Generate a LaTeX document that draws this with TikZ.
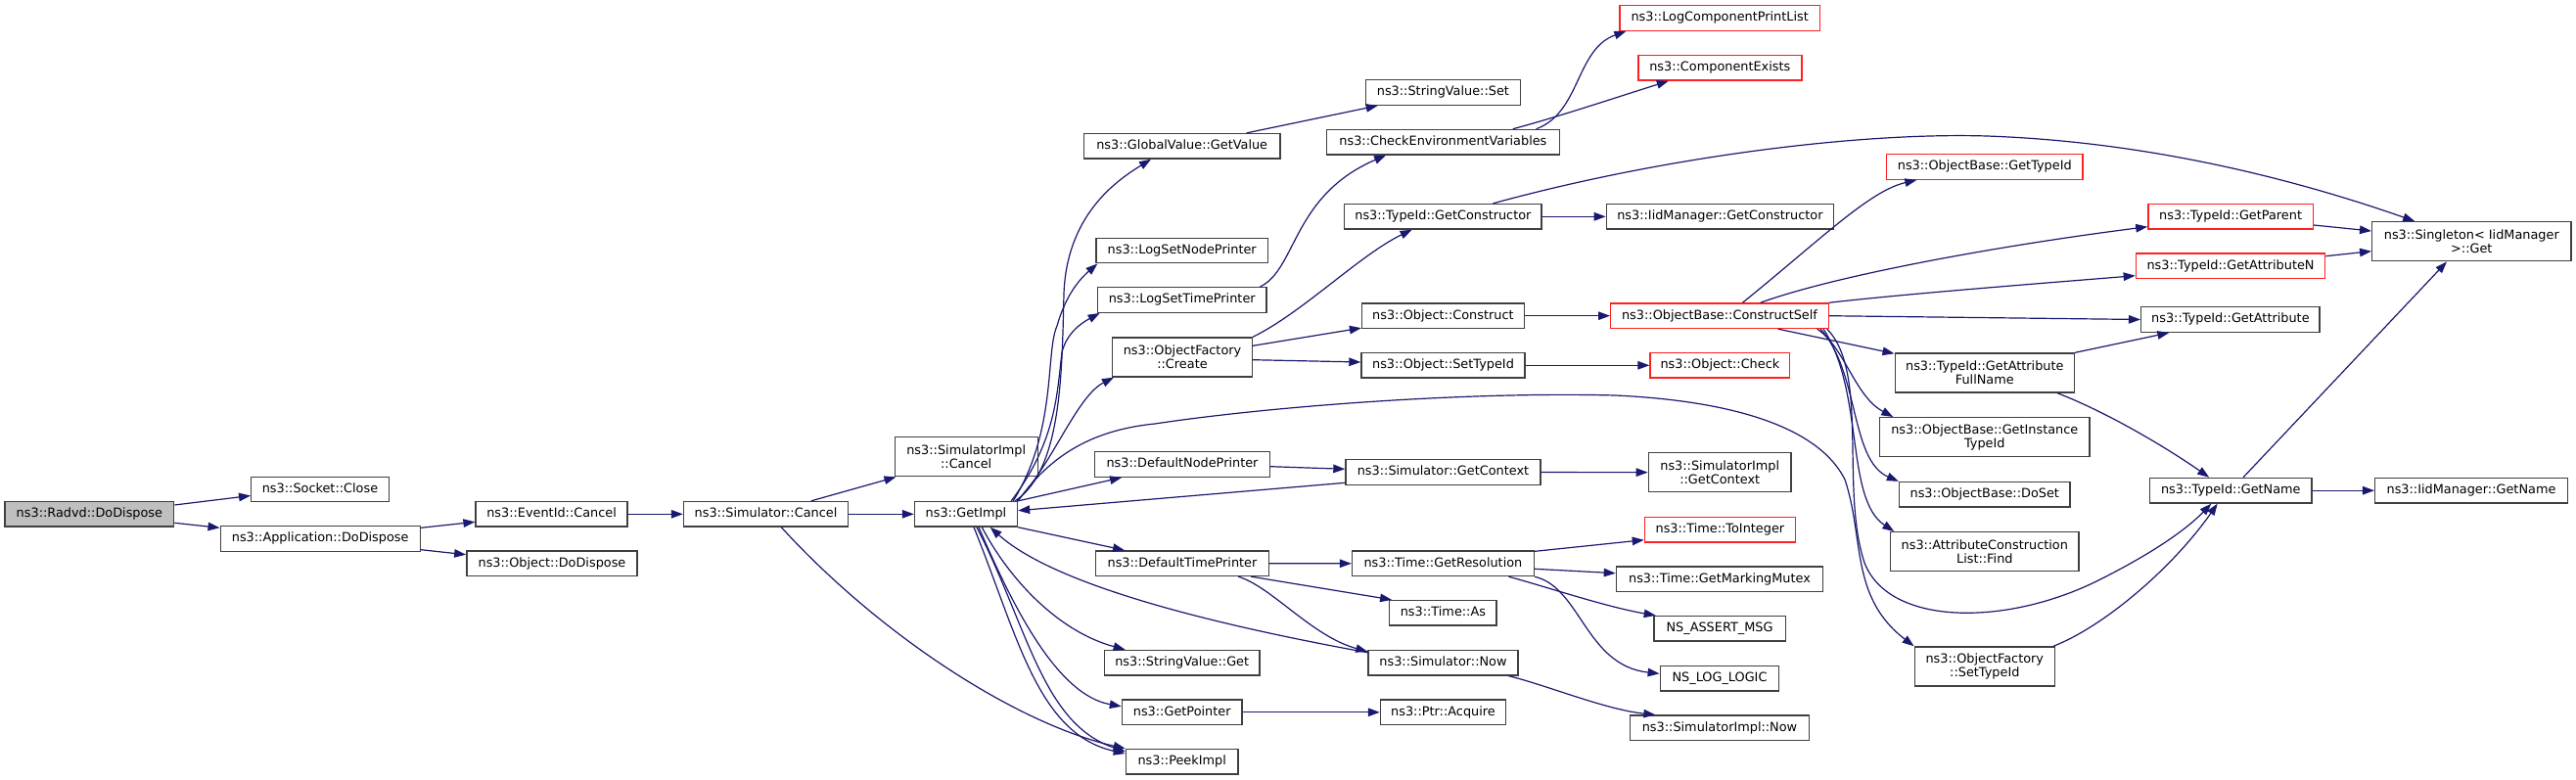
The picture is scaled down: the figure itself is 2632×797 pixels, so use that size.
\documentclass[tikz,border=0pt]{standalone}
\usepackage{fontspec}
\setmainfont{DejaVu Sans}
\usetikzlibrary{arrows.meta,calc}
\definecolor{edgeblue}{HTML}{191970}
\definecolor{boxgray}{HTML}{404040}
\definecolor{rootgray}{HTML}{BFBFBF}
\definecolor{boxred}{HTML}{FF2020}
\tikzset{
  fn/.style={draw=boxgray, line width=1.4pt, fill=white, inner sep=0pt,
    minimum height=25.5pt, font=\fontsize{12.85}{14.3}\selectfont,
    text height=9.6pt, text depth=2.8pt},
  fn2/.style={draw=boxgray, line width=1.4pt, fill=white, inner sep=0pt,
    minimum height=40pt, font=\fontsize{12.85}{14.3}\selectfont, align=center},
  redb/.style={draw=boxred},
  e/.style={draw=edgeblue, line width=1.2pt, -{Triangle[length=12pt,width=8.5pt]}, fill=none}
}
\begin{document}
\begin{tikzpicture}[x=1pt,y=-1pt]
\path[use as bounding box] (0,0) rectangle (2632,797);
% column 0-4
\node[fn, minimum width=172.5pt, fill=rootgray] (root) at (91.4,525.3) {ns3::Radvd::DoDispose};
\node[fn, minimum width=140.5pt] (close) at (327,500) {ns3::Socket::Close};
\node[fn, minimum width=204pt] (appd) at (327.2,550.5) {ns3::Application::DoDispose};
\node[fn, minimum width=155pt] (evc) at (563.6,525.3) {ns3::EventId::Cancel};
\node[fn, minimum width=174.3pt] (objd) at (564,575.8) {ns3::Object::DoDispose};
\node[fn, minimum width=168pt] (simc) at (782.5,525.3) {ns3::Simulator::Cancel};
\node[fn2, minimum width=146pt] (simic) at (987.2,466.7) {ns3::SimulatorImpl\\::Cancel};
\node[fn, minimum width=105pt] (gimpl) at (987,525.3) {ns3::GetImpl};
% column 5
\node[fn, minimum width=200.4pt] (gvget) at (1207.7,149.3) {ns3::GlobalValue::GetValue};
\node[fn, minimum width=175.3pt] (lsnp) at (1207.7,256) {ns3::LogSetNodePrinter};
\node[fn, minimum width=172.6pt] (lstp) at (1207.7,306.5) {ns3::LogSetTimePrinter};
\node[fn2, minimum width=142.7pt] (ofc) at (1208,365) {ns3::ObjectFactory\\::Create};
\node[fn, minimum width=179pt] (dnp) at (1208,474.5) {ns3::DefaultNodePrinter};
\node[fn, minimum width=176.5pt] (dtp) at (1208,575.7) {ns3::DefaultTimePrinter};
\node[fn, minimum width=158.8pt] (svget) at (1207.7,677.2) {ns3::StringValue::Get};
\node[fn, minimum width=122.4pt] (gptr) at (1207.7,727.8) {ns3::GetPointer};
\node[fn, minimum width=114.6pt] (peek) at (1207.7,778.3) {ns3::PeekImpl};
% column 6
\node[fn, minimum width=158pt] (svset) at (1474.4,94.5) {ns3::StringValue::Set};
\node[fn, minimum width=237.7pt] (cev) at (1474.4,145.2) {ns3::CheckEnvironmentVariables};
\node[fn, minimum width=201.3pt] (tgc) at (1474.4,221.3) {ns3::TypeId::GetConstructor};
\node[fn, minimum width=165.7pt] (ocons) at (1474.4,322.7) {ns3::Object::Construct};
\node[fn, minimum width=167pt] (ostid) at (1474.5,373.3) {ns3::Object::SetTypeId};
\node[fn, minimum width=199pt] (sgc) at (1474.5,482.5) {ns3::Simulator::GetContext};
\node[fn, minimum width=185.7pt] (tgr) at (1474.4,575.8) {ns3::Time::GetResolution};
\node[fn, minimum width=109.3pt] (tas) at (1474.4,626.3) {ns3::Time::As};
\node[fn, minimum width=153.1pt] (snow) at (1474.5,677.2) {ns3::Simulator::Now};
\node[fn, minimum width=128pt] (pacq) at (1474.5,727.8) {ns3::Ptr::Acquire};
% column 7
\node[fn, redb, minimum width=204.7pt] (lcpl) at (1757.2,18.5) {ns3::LogComponentPrintList};
\node[fn, redb, minimum width=167pt] (cex) at (1757.3,69.3) {ns3::ComponentExists};
\node[fn, minimum width=232pt] (igc) at (1757.4,221.3) {ns3::IidManager::GetConstructor};
\node[fn, redb, minimum width=222.5pt] (cself) at (1757,322.7) {ns3::ObjectBase::ConstructSelf};
\node[fn, redb, minimum width=142.7pt] (ocheck) at (1757.4,373.3) {ns3::Object::Check};
\node[fn2, minimum width=145.7pt] (sigc) at (1757.2,482.7) {ns3::SimulatorImpl\\::GetContext};
\node[fn, redb, minimum width=154pt] (toint) at (1757.4,541.2) {ns3::Time::ToInteger};
\node[fn, minimum width=211.2pt] (tgmm) at (1757,591.8) {ns3::Time::GetMarkingMutex};
\node[fn, minimum width=134.4pt] (nsam) at (1757,642.3) {NS\_ASSERT\_MSG};
\node[fn, minimum width=121.4pt] (nsll) at (1757,693.2) {NS\_LOG\_LOGIC};
\node[fn, minimum width=183pt] (sinow) at (1757,743.8) {ns3::SimulatorImpl::Now};
% column 8
\node[fn, redb, minimum width=200.4pt] (obgt) at (2027.8,170.5) {ns3::ObjectBase::GetTypeId};
\node[fn2, minimum width=183.2pt] (tgafn) at (2027.8,381) {ns3::TypeId::GetAttribute\\FullName};
\node[fn2, minimum width=214.2pt] (obgit) at (2027.8,446.7) {ns3::ObjectBase::GetInstance\\TypeId};
\node[fn, minimum width=174.6pt] (obds) at (2027.8,505.3) {ns3::ObjectBase::DoSet};
\node[fn2, minimum width=192.6pt] (acl) at (2027.8,563.7) {ns3::AttributeConstruction\\List::Find};
\node[fn2, minimum width=143pt] (ofst) at (2027.8,681) {ns3::ObjectFactory\\::SetTypeId};
% column 9
\node[fn, redb, minimum width=168.4pt] (tgp) at (2279.1,221.3) {ns3::TypeId::GetParent};
\node[fn, redb, minimum width=193.3pt] (tgan) at (2279,271.8) {ns3::TypeId::GetAttributeN};
\node[fn, minimum width=182.5pt] (tga) at (2278.9,326.5) {ns3::TypeId::GetAttribute};
\node[fn, minimum width=165.4pt] (tgn) at (2279.3,501.2) {ns3::TypeId::GetName};
% column 10
\node[fn2, minimum width=203.2pt] (sing) at (2525.3,246.7) {ns3::Singleton< IidManager\\ >::Get};
\node[fn, minimum width=196.7pt] (ign) at (2525,501.2) {ns3::IidManager::GetName};

% edges
\draw[e] ($(root.east)+(0,-9.3)$) -- ($(close.west)+(0,6.5)$);
\draw[e] ($(root.east)+(0,9)$) -- ($(appd.west)+(0,-11.2)$);
\draw[e] ($(appd.east)+(0,-11.2)$) -- ($(evc.west)+(0,8)$);
\draw[e] ($(appd.east)+(0,11.2)$) -- ($(objd.west)+(0,-9.1)$);
\draw[e] (evc) -- (simc);
\draw[e] ($(simc.north)+(46.2,0)$) -- ($(simic.south west)+(2,0)$);
\draw[e] (simc) -- (gimpl);
\draw[e] ($(simc.south)+(15.8,0)$) .. controls (900,650) and (1040,740) .. (peek.north west);

\draw[e] ($(gimpl.north east)+(-3,0)$) .. controls (1085,480) and (1085,380) .. (1087,300) .. controls (1090,220) and (1140,185) .. ($(gvget.south)+(-31.7,0)$);
\draw[e] ($(gimpl.north east)+(-5,0)$) .. controls (1080,440) and (1068,360) .. (1080,333) .. controls (1088,305) and (1100,288) .. ($(lsnp.south west)+(2,0)$);
\draw[e] ($(gimpl.north east)+(-7,0)$) .. controls (1080,450) and (1080,400) .. (1085,360) .. controls (1090,340) and (1105,330) .. ($(lstp.south west)+(3,0)$);
\draw[e] ($(gimpl.north east)+(-1,0)$) .. controls (1075,475) and (1100,405) .. ($(ofc.south west)+(2,0)$);
\draw[e] (gimpl.north east) .. controls (1070,470) and (1110,440) .. (1180,433) .. controls (1300,415) and (1500,400) .. (1650,404) .. controls (1780,410) and (1860,440) .. (1885,490) .. controls (1905,550) and (1890,610) .. (ofst.north west);
\draw[e] (gimpl.north east) -- ($(dnp.south west)+(28.3,0)$);
\draw[e] (gimpl.south east) -- ($(dtp.north west)+(30,0)$);
\draw[e] ($(gimpl.south)+(16.3,0)$) .. controls (1030,590) and (1080,645) .. ($(svget.north west)+(22,0)$);
\draw[e] ($(gimpl.south)+(13,0)$) .. controls (1035,620) and (1080,710) .. ($(gptr.west)+(0,-6)$);
\draw[e] ($(gimpl.south)+(8,0)$) .. controls (1040,650) and (1060,750) .. ($(peek.west)+(0,-8.3)$);
\draw[e] ($(gimpl.south)+(11,0)$) .. controls (1050,640) and (1065,740) .. ($(peek.west)+(0,-10.5)$);
\draw[e] ($(snow.north west)+(0,3)$) .. controls (1250,640) and (1080,600) .. ($(gimpl.south)+(24.7,0)$);
\draw[e] ($(sgc.west)+(0,10.8)$) -- ($(gimpl.east)+(0,-3.6)$);
\draw[e] ($(dnp.east)+(0,2.2)$) -- ($(sgc.west)+(0,-3.2)$);
\draw[e] (sgc) -- (sigc);
\draw[e] (dtp) -- (tgr);
\draw[e] ($(dtp.south east)+(-18.7,0)$) -- ($(tas.north west)+(3,0)$);
\draw[e] ($(dtp.south east)+(-31.7,0)$) .. controls (1300,600) and (1340,650) .. ($(snow.north west)+(0,2)$);
\draw[e] ($(snow.south east)+(-10.4,0)$) .. controls (1580,700) and (1640,725) .. ($(sinow.north west)+(26.5,0)$);
\draw[e] (gptr) -- (pacq);
\draw[e] ($(tgr.north east)+(0,1)$) -- ($(toint.west)+(0,10.5)$);
\draw[e] ($(tgr.east)+(0,5.5)$) -- ($(tgmm.west)+(0,-6.1)$);
\draw[e] ($(tgr.south east)+(-26.5,0)$) .. controls (1575,598) and (1640,620) .. ($(nsam.north west)+(2.6,0)$);
\draw[e] (tgr.south east) .. controls (1615,600) and (1620,680) .. ($(nsll.west)+(0,-4.9)$);

\draw[e] (ocons) -- (cself);
\draw[e] (ostid) -- (ocheck);
\draw[e] (tgc) -- (igc);
\draw[e] (ofc.north east) .. controls (1330,320) and (1390,260) .. ($(tgc.south west)+(69.6,0)$);
\draw[e] ($(ofc.east)+(0,-11.7)$) -- ($(ocons.south west)+(0,-1)$);
\draw[e] ($(ofc.east)+(0,2.7)$) -- ($(ostid.west)+(0,-3.3)$);
\draw[e] ($(lstp.north east)+(-7.3,0)$) .. controls (1325,275) and (1320,200) .. ($(cev.south west)+(61.2,0)$);
\draw[e] ($(gvget.north east)+(-34.9,0)$) -- ($(svset.south west)+(13,0)$);
\draw[e] ($(cev.north east)+(-24.3,0)$) .. controls (1615,115) and (1610,50) .. ($(lcpl.south west)+(7.2,0)$);
\draw[e] ($(cev.north east)+(-48.2,0)$) .. controls (1590,120) and (1650,100) .. ($(cex.south west)+(31.7,0)$);
\draw[e] ($(tgc.north)+(51.1,0)$) .. controls (1700,160) and (1900,135) .. (2030,139) .. controls (2200,145) and (2350,185) .. ($(sing.north west)+(44.2,0)$);
\draw[e] ($(tgp.east)+(0,8.7)$) -- ($(sing.west)+(0,-10.7)$);
\draw[e] ($(tgan.east)+(0,-10.1)$) -- ($(sing.west)+(0,10)$);
\draw[e] (tgafn.north east) -- ($(tga.south west)+(29.4,0)$);
\draw[e] ($(tgafn.south east)+(-18,0)$) .. controls (2150,420) and (2210,455) .. ($(tgn.north west)+(61.3,0)$);
\draw[e] ($(ofst.north east)+(-2,0)$) .. controls (2150,640) and (2220,580) .. ($(tgn.south west)+(69.8,0)$);
\draw[e] ($(tgn.north)+(12.7,0)$) -- ($(sing.south)+(-25.3,0)$);
\draw[e] (tgn) -- (ign);
\draw[e] ($(cself.north)+(23.5,0)$) .. controls (1860,245) and (1910,195) .. ($(obgt.south west)+(31.4,0)$);
\draw[e] ($(cself.north)+(41.7,0)$) .. controls (1880,280) and (2050,250) .. ($(tgp.west)+(0,10.4)$);
\draw[e] (cself.north east) .. controls (1950,300) and (2080,290) .. ($(tgan.west)+(0,9.9)$);
\draw[e] (cself.east) -- (tga.west);
\draw[e] ($(cself.south)+(59.7,0)$) -- ($(tgafn.north west)+(0,1)$);
\draw[e] ($(cself.south)+(99.7,0)$) .. controls (1885,355) and (1895,405) .. ($(obgit.north west)+(14.3,0)$);
\draw[e] ($(cself.south)+(103,0)$) .. controls (1900,380) and (1890,470) .. (obds.north west);
\draw[e] ($(cself.south)+(106,0)$) .. controls (1905,400) and (1885,510) .. ($(acl.north west)+(4.5,0)$);
\draw[e] ($(cself.south)+(109.7,0)$) .. controls (1910,380) and (1880,500) .. (1905,575) .. controls (1930,640) and (2050,640) .. (2144,593) .. controls (2190,570) and (2230,545) .. ($(tgn.south west)+(63.4,0)$);
\end{tikzpicture}
\end{document}
